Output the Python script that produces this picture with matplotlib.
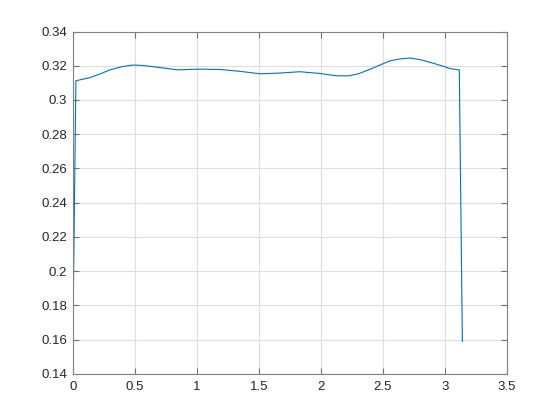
import matplotlib
matplotlib.use("Agg")
import matplotlib.pyplot as plt
from matplotlib.ticker import FuncFormatter

# valores
xs = [0.0, 0.025, 0.14, 0.22, 0.30, 0.40, 0.48, 0.56, 0.65, 0.74, 0.84, 1.02,
      1.19, 1.35, 1.51, 1.67, 1.83, 1.99, 2.13, 2.23, 2.31, 2.40, 2.48, 2.56,
      2.64, 2.72, 2.80, 2.88, 2.96, 3.04, 3.117, 3.1416]
ys = [0.159, 0.3112, 0.3131, 0.3152, 0.3176, 0.3195, 0.3204, 0.3202, 0.3194, 0.3186,
      0.3176, 0.3180, 0.3178, 0.3167, 0.3153, 0.3157, 0.3165, 0.3155, 0.3141, 0.3141,
      0.3155, 0.3180, 0.3205, 0.3229, 0.3240, 0.3245, 0.3236, 0.3220, 0.3203, 0.3184,
      0.3175, 0.159]

xticks = [0, 0.5, 1, 1.5, 2, 2.5, 3, 3.5]
yticks = [0.14, 0.16, 0.18, 0.2, 0.22, 0.24, 0.26, 0.28, 0.3, 0.32, 0.34]

plt.rcParams["font.family"] = ["Liberation Sans", "DejaVu Sans"]

fig = plt.figure(figsize=(5.6, 4.2), dpi=100)
ax = fig.add_axes([0.13, 0.11, 0.775, 0.815])

ax.plot(xs, ys, color="#0072BD", linewidth=0.8)

ax.set_xlim(0, 3.5)
ax.set_ylim(0.14, 0.34)
ax.set_xticks(xticks)
ax.set_yticks(yticks)

fmt = FuncFormatter(lambda v, pos: f"{v:.4g}")
ax.xaxis.set_major_formatter(fmt)
ax.yaxis.set_major_formatter(fmt)

ax.grid(True, color="#dedede", linewidth=0.8)
ax.set_axisbelow(True)
ax.tick_params(direction="in", top=True, right=True, length=4, width=0.8,
               color="#707070", labelcolor="#262626", labelsize=9.5)
ax.tick_params(axis="y", pad=4)
ax.tick_params(axis="x", pad=5)
for s in ax.spines.values():
    s.set_color("#808080")
    s.set_linewidth(0.8)

fig.savefig("out.png", dpi=100)
